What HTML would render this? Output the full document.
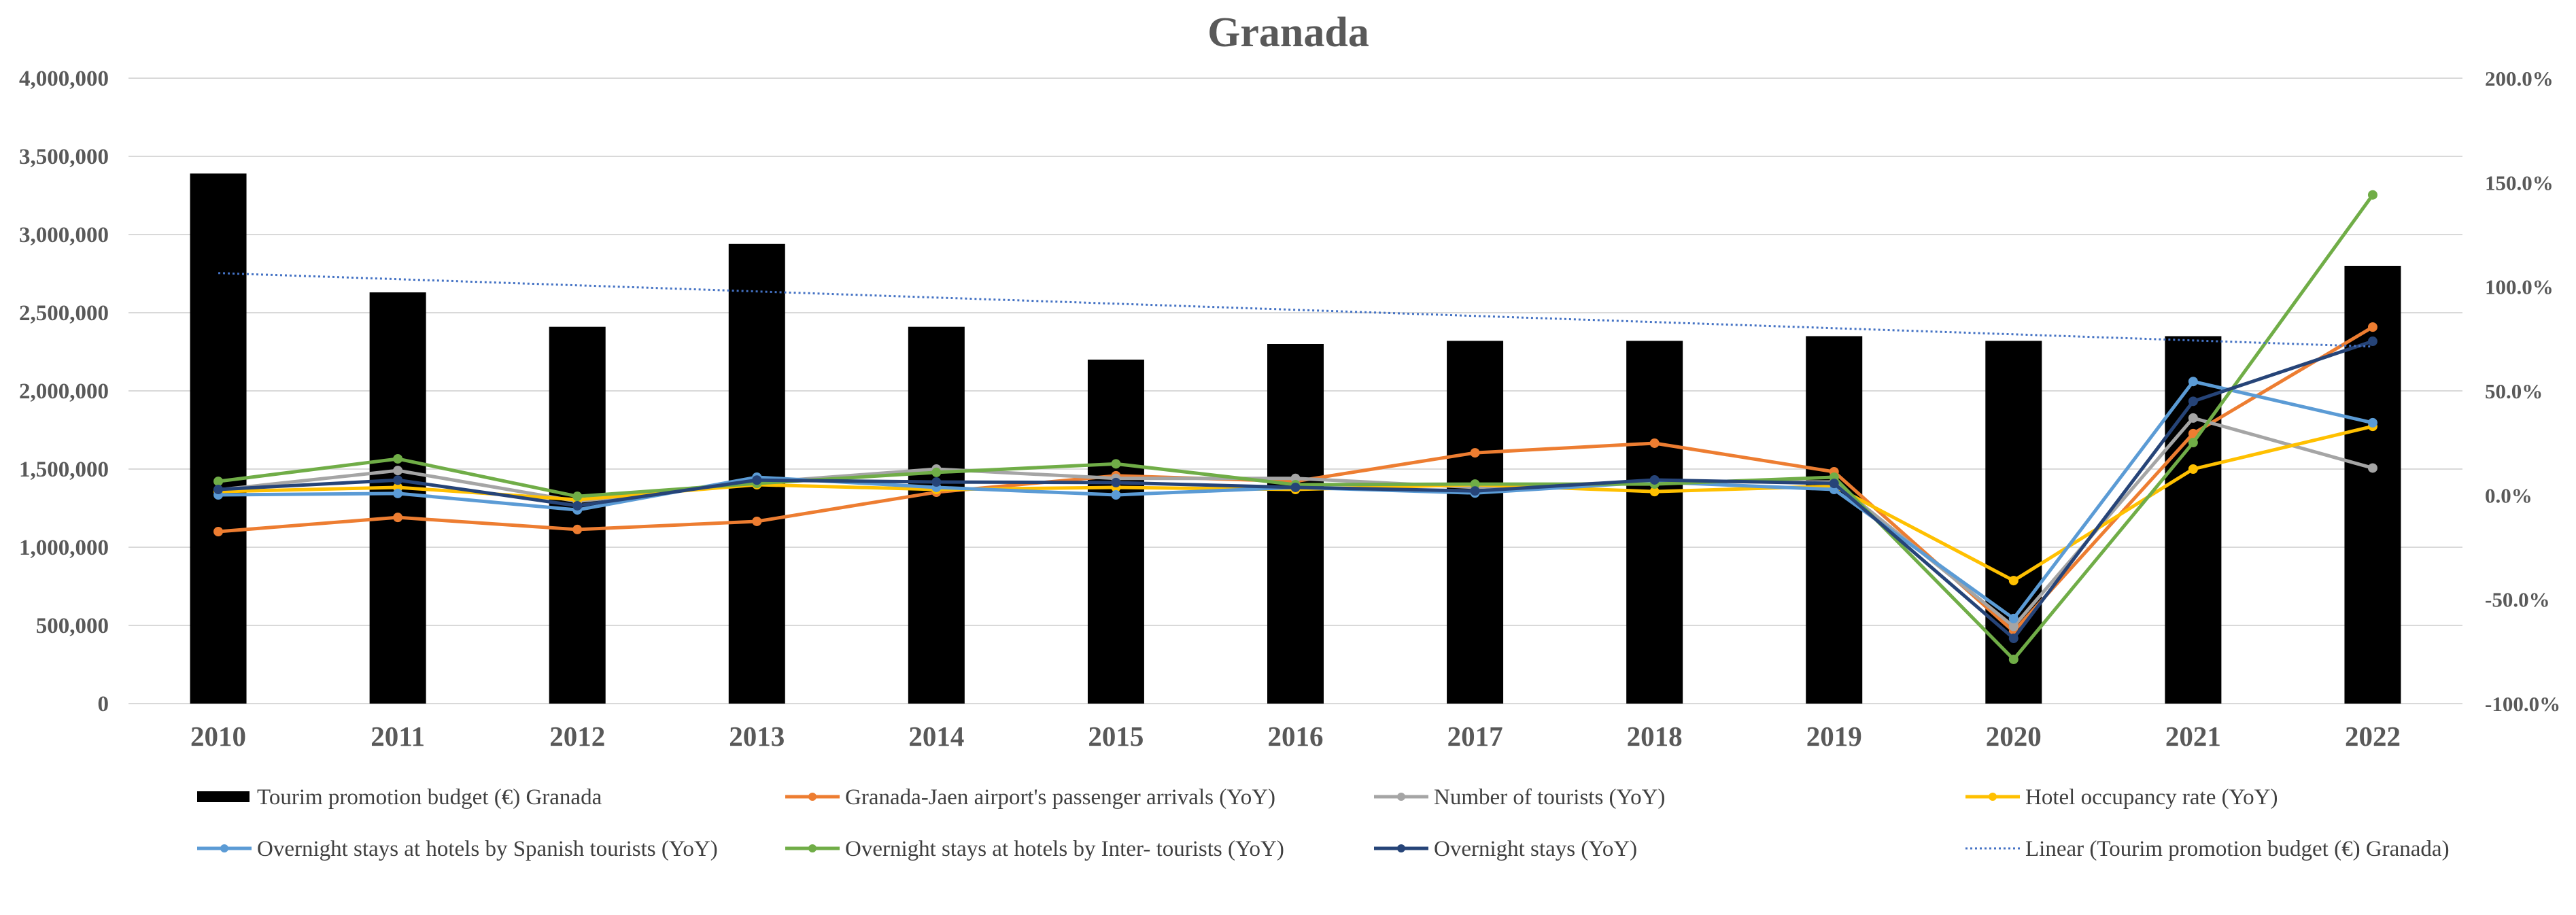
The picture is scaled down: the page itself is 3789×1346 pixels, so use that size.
<!DOCTYPE html>
<html><head><meta charset="utf-8"><style>
html,body{margin:0;padding:0;background:#fff}
svg{display:block}
text{font-family:"Liberation Serif",serif}
</style></head><body>
<svg id="chart" width="3789" height="1346" viewBox="0 0 3789 1346" xmlns="http://www.w3.org/2000/svg">
<text x="1895" y="68" text-anchor="middle" font-size="62" font-weight="bold" fill="#595959">Granada</text>
<g id="grid"></g><g id="bars"></g><g id="lines"></g><g id="axes"></g><g id="legend"></g>
</svg>
<script>
const years = ["2010","2011","2012","2013","2014","2015","2016","2017","2018","2019","2020","2021","2022"];
const budget = [3390000,2630000,2410000,2940000,2410000,2200000,2300000,2320000,2320000,2350000,2320000,2350000,2800000];
const airport = [-17.5,-10.7,-16.5,-12.6,1.4,9.3,6.6,20.3,24.9,11.2,-65.4,29.5,80.6];
const tourists = [2.5,11.8,-3,6,12.5,8,8,3.7,6.5,6.3,-63,37,13];
const occupancy = [1.7,3.7,-2.2,5,2.7,3.7,2.7,5,1.7,4.3,-41,12.5,33];
const spanish = [0.1,0.8,-7.1,8.6,3.7,0.1,3.7,1,6.3,2.7,-59.2,54.5,34.7];
const intl = [6.6,17.4,-0.6,5.6,10.9,15,5,5.3,5.3,8.6,-78.8,25.2,144];
const overnight = [2.7,7.2,-5.1,7.2,6.3,6,3.7,2,7.3,5.6,-68.7,45,73.8];
const leftTicks = [0,500000,1000000,1500000,2000000,2500000,3000000,3500000,4000000];
const rightTicks = [-100,-50,0,50,100,150,200];

const NS="http://www.w3.org/2000/svg";
const L=189,R=3622,T=115,B=1035;
const band=(R-L)/years.length;
const xC=i=>L+band*(i+0.5);
const yL=v=>B-(v/4000000)*(B-T);
const yR=v=>B-((v+100)/300)*(B-T);
function mk(tag,attrs,parent,txt){const e=document.createElementNS(NS,tag);for(const k in attrs)e.setAttribute(k,attrs[k]);if(txt!==undefined)e.textContent=txt;parent.appendChild(e);return e;}
const grid=document.getElementById('grid'),bars=document.getElementById('bars'),lines=document.getElementById('lines'),axes=document.getElementById('axes'),legend=document.getElementById('legend');

leftTicks.forEach(v=>{
  const g=mk('line',{x1:L,x2:R,y1:yL(v),y2:yL(v),stroke:'#d9d9d9','stroke-width':2},grid);
  
  
  const t=mk('text',{x:160,y:yL(v)+11,'text-anchor':'end','font-size':33,'font-weight':'bold',fill:'#595959'},axes,v.toLocaleString('en-US'));
  
  
});
rightTicks.forEach(v=>{
  const t=mk('text',{x:3655,y:yR(v)+11,'font-size':31,'font-weight':'bold',fill:'#595959'},axes,v.toFixed(1)+'%');
  
  
});
years.forEach((y,i)=>{
  const t=mk('text',{x:xC(i),y:1097,'text-anchor':'middle','font-size':41,'font-weight':'bold',fill:'#595959'},axes,y);
  
  
});
const bw=83;
budget.forEach((v,i)=>{
  const r=mk('rect',{x:xC(i)-bw/2,y:yL(v),width:bw,height:B-yL(v),fill:'#000'},bars);
  
  
});
const series=[
 ['airport-arrivals',airport,'#ED7D31'],
 ['number-of-tourists',tourists,'#A5A5A5'],
 ['hotel-occupancy',occupancy,'#FFC000'],
 ['spanish-overnight-stays',spanish,'#5B9BD5'],
 ['international-overnight-stays',intl,'#70AD47'],
 ['overnight-stays',overnight,'#264478']];
series.forEach(([name,d,c])=>{
  const p=mk('polyline',{points:d.map((v,i)=>xC(i)+','+yR(v)).join(' '),fill:'none',stroke:c,'stroke-width':5,'stroke-linejoin':'round'},lines);
  
  
  d.forEach((v,i)=>{
    const m=mk('circle',{cx:xC(i),cy:yR(v),r:7,fill:c},lines);
    
    
  });
});
// linear trend of budget
const n=budget.length;let sx=0,sy=0,sxy=0,sxx=0;
budget.forEach((v,i)=>{sx+=i;sy+=v;sxy+=i*v;sxx+=i*i;});
const slope=(n*sxy-sx*sy)/(n*sxx-sx*sx),icpt=(sy-slope*sx)/n;
const tl=mk('line',{x1:xC(0),y1:yL(icpt),x2:xC(n-1),y2:yL(icpt+slope*(n-1)),stroke:'#4472C4','stroke-width':3,'stroke-dasharray':'3 4'},lines);



const items=[
 ['bar','#000',"Tourim promotion budget (€) Granada",290,1172],
 ['line','#ED7D31',"Granada-Jaen airport's passenger arrivals (YoY)",1155,1172],
 ['line','#A5A5A5',"Number of tourists (YoY)",2021,1172],
 ['line','#FFC000',"Hotel occupancy rate (YoY)",2891,1172],
 ['line','#5B9BD5',"Overnight stays at hotels by Spanish tourists (YoY)",290,1248],
 ['line','#70AD47',"Overnight stays at hotels by Inter- tourists (YoY)",1155,1248],
 ['line','#264478',"Overnight stays (YoY)",2021,1248],
 ['dot','#4472C4',"Linear (Tourim promotion budget (€) Granada)",2891,1248]];
items.forEach(([k,c,label,x,y])=>{
  const g=mk('g',{},legend);
  
  
  if(k==='bar') mk('rect',{x:x,y:y-8,width:77,height:16,fill:c},g);
  else if(k==='line'){mk('line',{x1:x,x2:x+80,y1:y,y2:y,stroke:c,'stroke-width':5},g);mk('circle',{cx:x+40,cy:y,r:6,fill:c},g);}
  else mk('line',{x1:x,x2:x+80,y1:y,y2:y,stroke:c,'stroke-width':3,'stroke-dasharray':'3 4'},g);
  mk('text',{x:x+88,y:y+11,'font-size':33,fill:'#404040'},g,label);
});
</script>
</body></html>
